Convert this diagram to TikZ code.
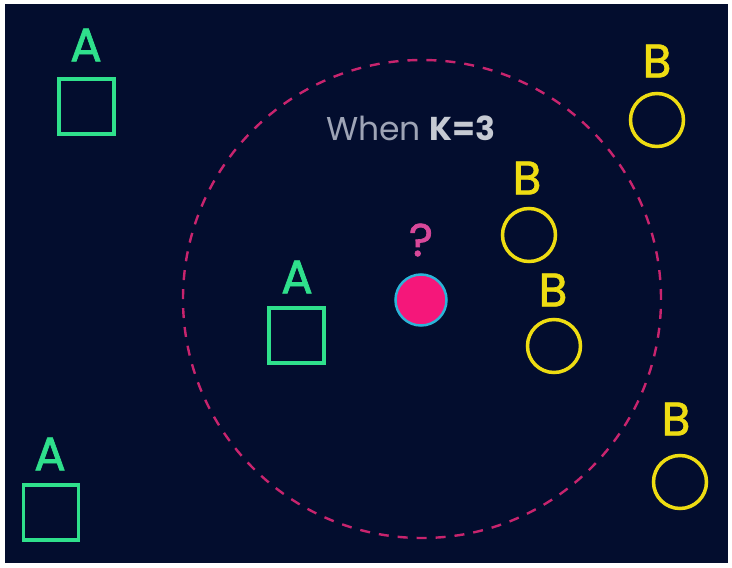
\documentclass[tikz,border=0pt]{standalone}
\usepackage{fontspec}
\setmainfont{Poppins}
\newfontfamily\letterfont[FakeBold=1.5]{Poppins}
\definecolor{bg}{HTML}{030D2E}
\definecolor{agreen}{HTML}{2FE08C}
\definecolor{byellow}{HTML}{EEDC12}
\definecolor{dashpink}{HTML}{C8246E}
\definecolor{dotpink}{HTML}{F5177A}
\definecolor{dotcyan}{HTML}{2AB5D8}
\definecolor{qpink}{HTML}{D8489A}
\definecolor{txtgray}{HTML}{9EA4B6}
\definecolor{txtlight}{HTML}{C6CAD3}
\tikzset{
  asq/.style={draw=agreen, line width=3.5pt, minimum size=55pt, inner sep=0pt},
  bcirc/.style={circle, draw=byellow, line width=3.5pt, minimum size=53pt, inner sep=0pt},
  alab/.style={text=agreen, font=\letterfont\fontsize{47}{47}\selectfont, inner sep=0pt},
  blab/.style={text=byellow, font=\letterfont\fontsize{47}{47}\selectfont, inner sep=0pt},
}
\begin{document}
\begin{tikzpicture}[x=1pt,y=-1pt]
\useasboundingbox (0,0) rectangle (732,568);
\fill[white] (0,0) rectangle (732,568);
\fill[bg] (5,4) rectangle (728,563);
% dashed circle
\node[circle, draw=dashpink, line width=2.4pt, dash pattern=on 10pt off 9pt, minimum size=478pt, inner sep=0pt] (range) at (422,299) {};
% query point
\node[circle, fill=dotpink, draw=dotcyan, line width=2.5pt, minimum size=51pt, inner sep=0pt] (query) at (421,300) {};
\node[text=qpink, font=\letterfont\fontsize{46}{46}\selectfont, inner sep=0pt] (qmark) at (421,240) {?};
% title
\node[inner sep=0pt, font=\fontsize{33}{33}\selectfont] (title) at (411,128) {\textcolor{txtgray}{When} \textcolor{txtlight}{\bfseries K=3}};
% class A
\node[asq] (a1) at (86.5,106.5) {};
\node[alab] (la1) at (86,45) {A};
\node[asq] (a2) at (296.5,335.5) {};
\node[alab] (la2) at (297,277) {A};
\node[asq] (a3) at (51,512.5) {};
\node[alab] (la3) at (50,454) {A};
% class B
\node[bcirc] (b1) at (657,120) {};
\node[blab] (lb1) at (657,61) {B};
\node[bcirc] (b2) at (529,235) {};
\node[blab] (lb2) at (527,178) {B};
\node[bcirc] (b3) at (554,346) {};
\node[blab] (lb3) at (553,290) {B};
\node[bcirc] (b4) at (680,482) {};
\node[blab] (lb4) at (676,419) {B};
\end{tikzpicture}
\end{document}
